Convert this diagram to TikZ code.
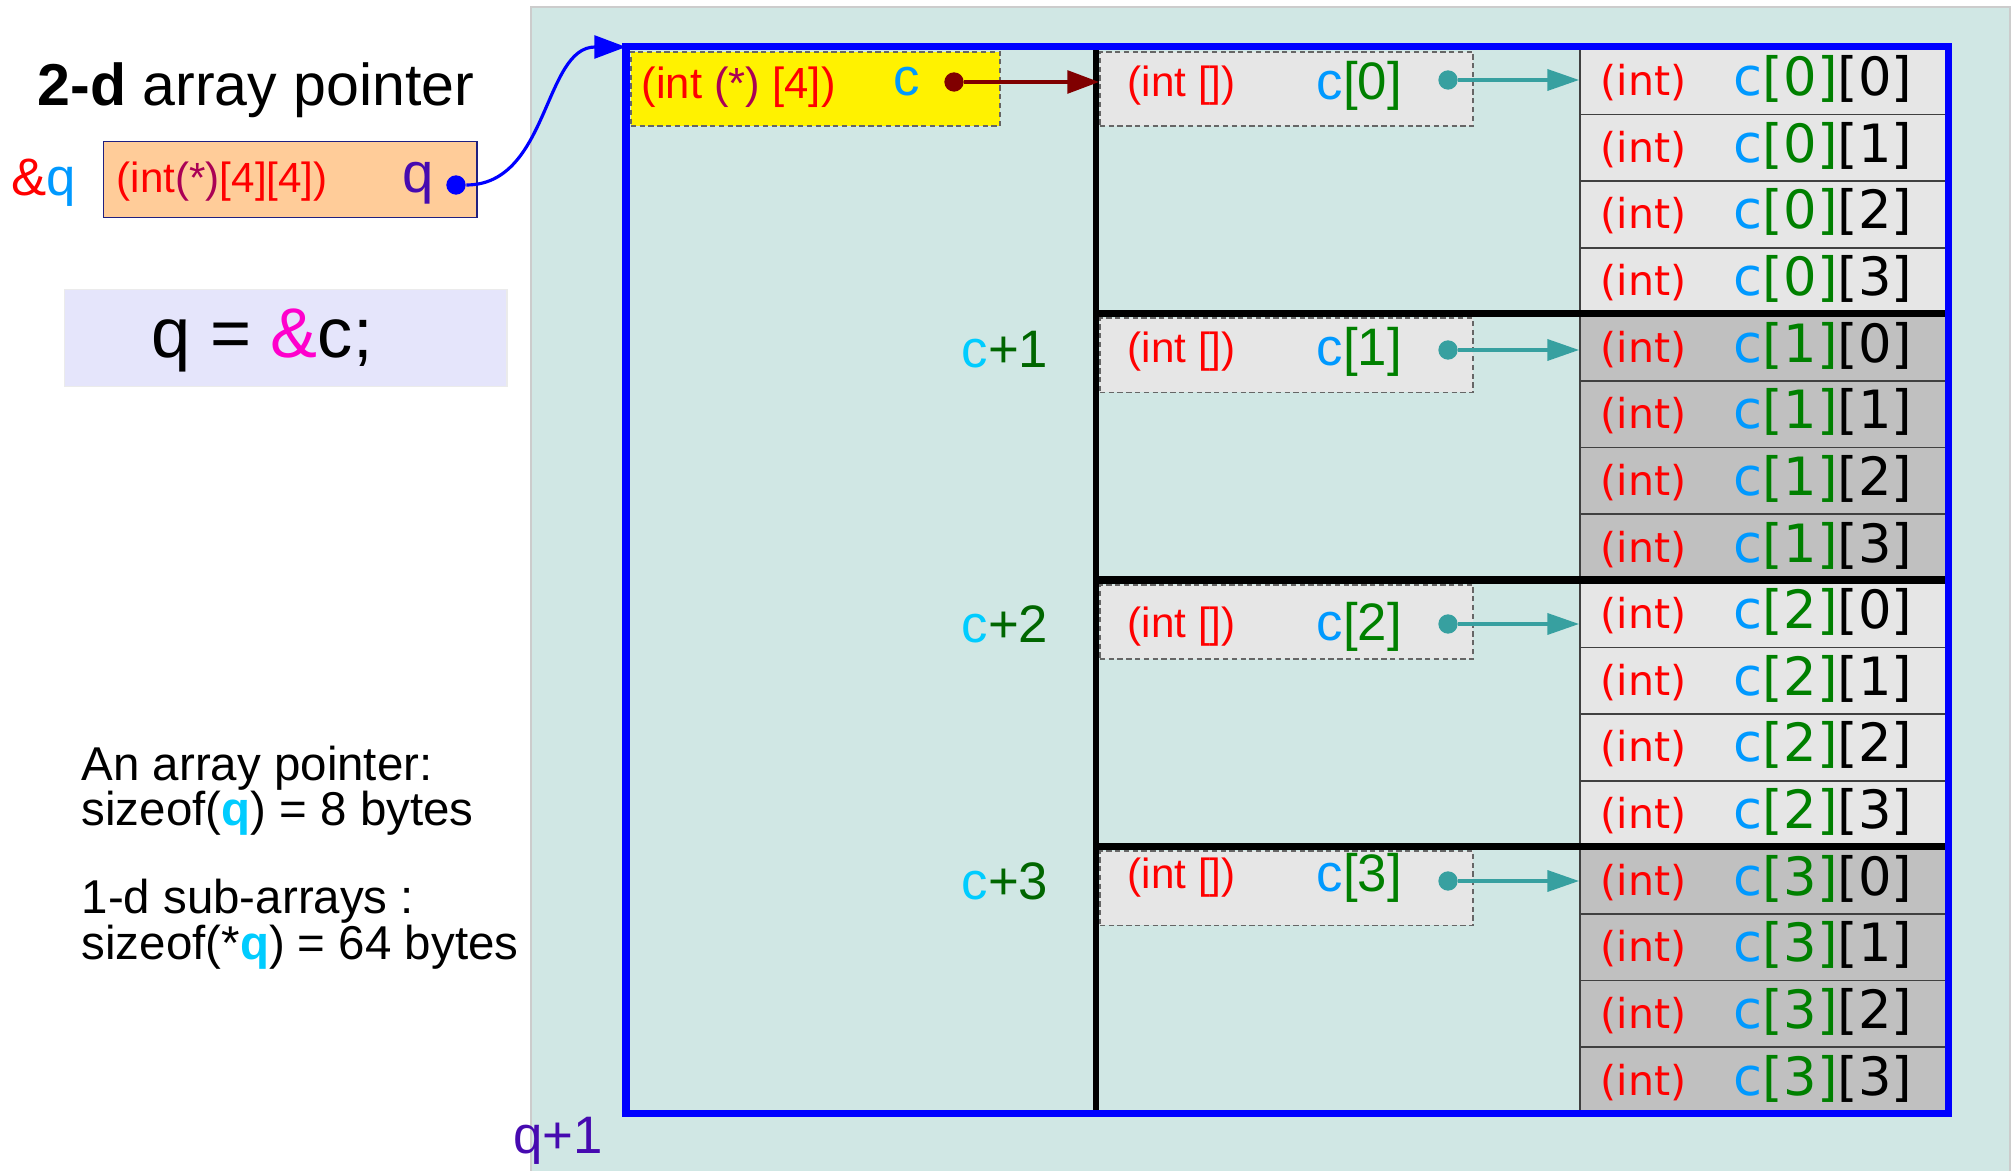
\documentclass[tikz,border=0pt]{standalone}
\usepackage{fontspec}
\setmainfont{Liberation Sans}
\newfontfamily\dejavu{DejaVu Sans}
\usetikzlibrary{arrows.meta,positioning}
\definecolor{tealbg}{RGB}{208,231,228}
\definecolor{ptrred}{RGB}{170,0,85}
\definecolor{cblue}{RGB}{0,153,255}
\definecolor{ccyan}{RGB}{0,204,255}
\definecolor{igreen}{RGB}{0,128,0}
\definecolor{dgreen}{RGB}{0,102,0}
\definecolor{qpurple}{RGB}{70,10,176}
\definecolor{arrteal}{RGB}{55,160,160}
\definecolor{darkred}{RGB}{128,0,0}
\definecolor{lav}{RGB}{229,229,251}
\definecolor{peach}{RGB}{255,204,153}
\definecolor{navyline}{RGB}{32,32,128}
\definecolor{lgray}{RGB}{230,230,230}
\definecolor{dgray}{RGB}{192,192,192}
\definecolor{amp}{RGB}{255,0,204}

\begin{document}
\begin{tikzpicture}[x=0.01cm,y=-0.01cm,>=Latex]
  \tikzstyle{cell}=[draw=black!75,line width=0.5pt,minimum width=3.66cm,minimum height=0.666cm,inner sep=0pt,anchor=north west]
  \tikzstyle{slot}=[draw=black!60,dash pattern=on 1.5pt off 1pt,line width=0.5pt,minimum height=0.74cm,inner sep=0pt,anchor=north west]
  \tikzstyle{bead}=[circle,inner sep=0pt,minimum size=5.5pt]
  \tikzstyle{smalltxt}=[font=\fontsize{12}{14}\selectfont,inner sep=0pt]
  \tikzstyle{bigtxt}=[font=\fontsize{15}{18}\selectfont,inner sep=0pt]
  \useasboundingbox (0,0) rectangle (2013,1171);
  \filldraw[fill=tealbg,draw=black!20] (531,7) rectangle (2010,1190);

  \node (title) at (256,90) {\fontsize{16.8}{20}\selectfont\textbf{2-d} array pointer};
  \node[fill=peach,draw=navyline,minimum width=3.73cm,minimum height=0.76cm,anchor=north west] (qbox) at (103,141) {};
  \node[bigtxt,left=0.26cm of qbox,yshift=-0.03cm] (addrq) {\textcolor{red}{\&}\textcolor{cblue}{q}};
  \node[smalltxt,anchor=west] (qtype) at (116,182) {\textcolor{red}{(int}\textcolor{ptrred}{(*)}\textcolor{red}{[4][4])}};
  \node[font=\fontsize{16}{19}\selectfont,text=qpurple,inner sep=0pt,anchor=west] (qname) at (402,183) {q};
  \node[bead,fill=blue] (qdot) at (456,185) {};

  \node[fill=lav,draw=black!8,minimum width=4.42cm,minimum height=0.97cm,anchor=north west] (assign) at (64,289) {};
  \node[font=\fontsize{20}{24}\selectfont,inner sep=0pt,anchor=west] (assigntxt) at (151,340) {q = \textcolor{amp}{\&}c;};

  \node[anchor=north west,align=left,inner sep=0pt,font=\fontsize{13.5}{13}\selectfont] (sizes) at (81,745)
    {An array pointer:\\ sizeof(\textcolor{ccyan}{\textbf{q}}) = 8 bytes\\[12pt] 1-d sub-arrays :\\ sizeof(*\textcolor{ccyan}{\textbf{q}}) = 64 bytes};
  \node[bigtxt,text=qpurple] (qnext) at (558,1141) {q+1};

  \node[fill=yellow,slot,minimum width=3.69cm] (cvar) at (630,51) {};
  \node[font=\fontsize{12.4}{14}\selectfont,inner sep=0pt,anchor=west] (ctype) at (641,87) {\textcolor{red}{(int\ }\textcolor{ptrred}{(*)}\textcolor{red}{\ [4])}};
  \node[bigtxt,text=cblue,anchor=west] (cname) at (893,82) {c};
  \node[bead,fill=darkred] (cdot) at (954,82) {};

  \foreach \i/\fc/\dy/\ty in {0/lgray/80/86,1/dgray/350/352,2/lgray/624/627,3/dgray/881/878} {
    \pgfmathsetmacro{\gy}{47+266.5*\i}
    \node[slot,fill=lgray,minimum width=3.73cm] (r\i) at (1099,\gy+4) {};
    \node[smalltxt,anchor=west] (rt\i) at (1127,\ty) {\textcolor{red}{(int [])}};
    \node[bigtxt,anchor=west] (rn\i) at (1316,\ty) {\textcolor{cblue}{c}\textcolor{igreen}{[\i]}};
    \node[bead,fill=arrteal] (d\i) at (1448,\dy) {};
    \foreach \j in {0,...,3} {
      \node[cell,fill=\fc] (e\i\j) at (1579,\gy+66.6*\j) {};
      \node[anchor=west,inner sep=0pt,font=\dejavu] (et\i\j) at ([xshift=0.21cm,yshift=0.02cm]e\i\j.west)
        {{\fontsize{11.7}{14}\selectfont\textcolor{red}{(int)}}\hspace{13.5pt}{\fontsize{15}{18}\selectfont\textcolor{cblue}{c}\textcolor{igreen}{[\i]}[\j]}};
    }
    \draw[arrteal,line width=0.9pt,-{Triangle[length=9pt,width=6pt]}] (d\i) -- (d\i -| e\i0.west);
    \ifnum\i>0
      \node[bigtxt] (cp\i) at (1005,\dy) {\textcolor{ccyan}{c}\textcolor{dgreen}{+\i}};
      \draw[line width=2.2pt] (1096,\gy) -- (1945,\gy);
    \fi
  }
  \draw[line width=1.6pt] (1096,47) -- (1096,1113);
  \draw[darkred,line width=0.9pt,-{Triangle[length=9pt,width=6.5pt]}] (cdot) -- (r0.west |- cdot);

  \node[draw=blue,line width=2pt,minimum width=13.22cm,minimum height=10.66cm,inner sep=0pt,outer sep=0pt,anchor=north west] (frame) at (626,47) {};
  \draw[blue,line width=0.9pt,-{Triangle[length=9pt,width=6.5pt]}] (qdot) to[out=0,in=180] (frame.north west);
\end{tikzpicture}
\end{document}
